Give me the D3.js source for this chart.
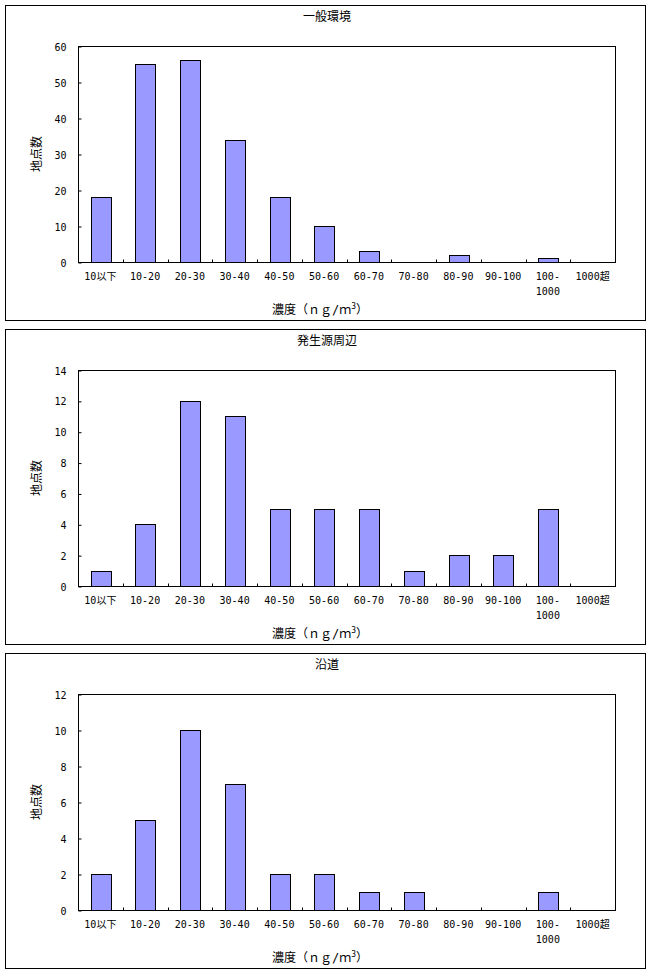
<!DOCTYPE html>
<html><head><meta charset="utf-8">
<script src="https://cdn.jsdelivr.net/npm/d3@7"></script>
<style>
body{margin:0;background:#fff;}
text{font-family:"DejaVu Sans Mono","Noto Sans CJK JP",monospace;fill:#000;}
</style></head><body>
<svg id="c" width="652" height="974"></svg>
<script>
const categories = ["10以下","10-20","20-30","30-40","40-50","50-60","60-70","70-80","80-90","90-100","100-\n1000","1000超"];
const titles = ["一般環境","発生源周辺","沿道"];
const seriesGeneral = [18,55,56,34,18,10,3,0,2,0,1,0];
const seriesSource  = [1,4,12,11,5,5,5,1,2,2,5,0];
const seriesRoadside= [2,5,10,7,2,2,1,1,0,0,1,0];
const yMaxes = [60,14,12];
const yTickSteps = [10,2,2];
const yTitle = "地点数";

const panels = [seriesGeneral, seriesSource, seriesRoadside];
const svg = d3.select("#c");
const L=78, R=615, T=46, B=262;

panels.forEach((vals, i) => {
  const g = svg.append("g").attr("transform", `translate(0,${i*324})`);
  g.append("rect").attr("x",5.5).attr("y",5.5).attr("width",640).attr("height",315)
    .attr("fill","#fff").attr("stroke","#000").attr("stroke-width",1);
  const x = d3.scaleBand().domain(categories).range([L,R]).padding(0);
  const y = d3.scaleLinear().domain([0,yMaxes[i]]).range([B,T]);
  const bw = x.bandwidth()*0.44;
  // bars
  g.selectAll("rect.bar").data(vals.map((v,k)=>({c:categories[k],v})).filter(d=>d.v>0))
    .enter().append("rect").attr("class","bar")
    .attr("x", d=>Math.round(x(d.c)+x.bandwidth()/2-bw/2)+0.5)
    .attr("y", d=>Math.round(y(d.v))+0.5)
    .attr("width", Math.round(bw))
    .attr("height", d=>Math.round(y(0))-Math.round(y(d.v)))
    .attr("fill","#9999ff").attr("stroke","#000").attr("stroke-width",1);
  // plot frame
  g.append("rect").attr("x",L+0.5).attr("y",T+0.5).attr("width",R-L).attr("height",B-T)
    .attr("fill","none").attr("stroke","#000").attr("stroke-width",1);
  // y axis
  const yt = d3.range(0, yMaxes[i]+0.001, yTickSteps[i]);
  const ya = d3.axisLeft(y).tickValues(yt).tickSize(-3).tickPadding(12);
  const yg = g.append("g").attr("transform",`translate(${L+0.5},0.5)`).call(ya);
  yg.select(".domain").remove();
  yg.selectAll("line").attr("stroke","#000");
  yg.selectAll("text").attr("font-size",10).attr("dy","0.35em");
  // x ticks (inward at band boundaries)
  g.selectAll("line.xt").data(categories).enter().append("line")
    .attr("x1",d=>Math.round(x(d))+0.5).attr("x2",d=>Math.round(x(d))+0.5)
    .attr("y1",B+0.5).attr("y2",B-3+0.5).attr("stroke","#000");
  // x labels
  categories.forEach(c => {
    const lines = c.split("\n");
    const t = g.append("text").attr("x", x(c)+x.bandwidth()/2).attr("y", 280)
      .attr("text-anchor","middle").attr("font-size",10);
    lines.forEach((ln,j)=> t.append("tspan").attr("x", x(c)+x.bandwidth()/2).attr("dy", j? 15:0).text(ln));
  });
  // title
  g.append("text").attr("x",327).attr("y",21).attr("text-anchor","middle")
    .attr("font-size",12).attr("font-family","Noto Sans CJK JP").text(titles[i]);
  // y title
  g.append("text").attr("transform",`translate(41,${(T+B)/2}) rotate(-90)`)
    .attr("text-anchor","middle").attr("font-size",12).attr("font-family","Noto Sans CJK JP").text(yTitle);
  // x title
  const xt = g.append("text").attr("x",320).attr("y",314).attr("text-anchor","middle")
    .attr("font-size",12).attr("font-family","Noto Sans CJK JP");
  xt.append("tspan").text("濃度（ｎｇ/ｍ");
  xt.append("tspan").attr("font-size",8).attr("dy",-5).text("3");
  xt.append("tspan").attr("dy",5).text("）");
});
</script></body></html>
